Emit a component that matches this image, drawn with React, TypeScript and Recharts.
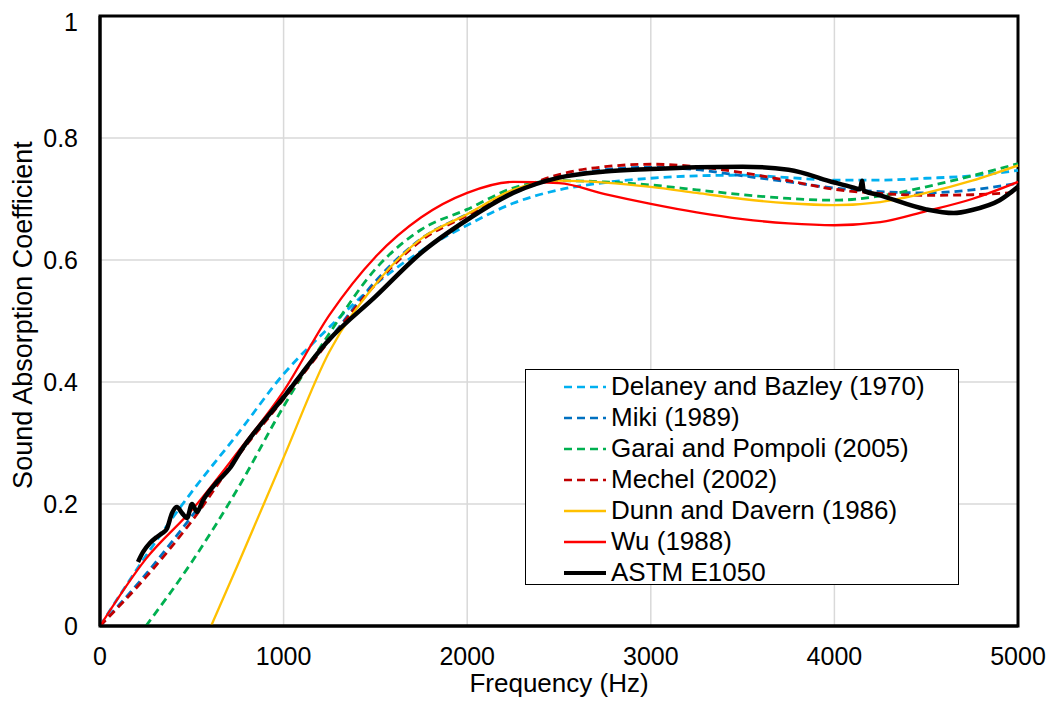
import { LineChart, Line, XAxis, YAxis, CartesianGrid, Legend, ReferenceArea } from 'recharts';

const freqHz = [0, 250, 500, 750, 1000, 1250, 1500, 1750, 2000, 2250, 2500, 2750, 3000, 3250, 3500, 3750, 4000, 4250, 4500, 4750, 5000];

const delaneyBazley = [0, 0.115, 0.22, 0.315, 0.413, 0.49, 0.56, 0.615, 0.657, 0.693, 0.715, 0.727, 0.734, 0.738, 0.739, 0.735, 0.731, 0.731, 0.734, 0.738, 0.747];
const miki = [0, 0.085, 0.18, 0.28, 0.378, 0.47, 0.565, 0.635, 0.675, 0.71, 0.735, 0.748, 0.752, 0.748, 0.738, 0.728, 0.718, 0.712, 0.71, 0.715, 0.726];
const garaiPompoli = [null, 0, 0.105, 0.225, 0.36, 0.48, 0.585, 0.65, 0.683, 0.718, 0.73, 0.728, 0.723, 0.715, 0.707, 0.701, 0.698, 0.705, 0.72, 0.738, 0.758];
const mechel = [0, 0.08, 0.172, 0.278, 0.372, 0.468, 0.56, 0.632, 0.673, 0.712, 0.74, 0.753, 0.757, 0.753, 0.743, 0.73, 0.716, 0.709, 0.706, 0.707, 0.711];
const wu = [0, 0.11, 0.19, 0.285, 0.385, 0.51, 0.605, 0.67, 0.71, 0.728, 0.726, 0.708, 0.692, 0.678, 0.667, 0.66, 0.657, 0.662, 0.68, 0.7, 0.728];

const dunnFreqHz = [605, 750, 1000, 1250, 1500, 1750, 2000, 2250, 2500, 2750, 3000, 3250, 3500, 3750, 4000, 4250, 4500, 4750, 5000];
const dunnDavern = [0, 0.1, 0.276, 0.45, 0.56, 0.635, 0.675, 0.715, 0.73, 0.727, 0.72, 0.71, 0.7, 0.693, 0.69, 0.695, 0.71, 0.73, 0.755];

const astmFreqHz = [207, 234, 272, 310, 338, 365, 392, 419, 447, 474, 501, 528, 561, 637, 708, 762, 1000, 1250, 1500, 1750, 2000, 2250, 2500, 2750, 3000, 3250, 3500, 3750, 4000, 4100, 4140, 4150, 4160, 4250, 4500, 4650, 4750, 4900, 5000];
const astmE1050 = [0.105, 0.121, 0.136, 0.146, 0.152, 0.16, 0.185, 0.195, 0.185, 0.177, 0.2, 0.187, 0.206, 0.236, 0.259, 0.285, 0.375, 0.47, 0.54, 0.612, 0.666, 0.71, 0.735, 0.745, 0.749, 0.752, 0.753, 0.748, 0.727, 0.719, 0.716, 0.73, 0.714, 0.706, 0.683, 0.677, 0.682, 0.698, 0.72];

const xTicks = [0, 1000, 2000, 3000, 4000, 5000];
const yTicks = [0, 0.2, 0.4, 0.6, 0.8, 1];

const toPoints = (fs: number[], vs: (number | null)[]) => fs.map((f, i) => ({ f, v: vs[i] }));

const series = [
  { name: 'Delaney and Bazley (1970)', color: '#00B0F0', dashed: true, width: 2.8, data: toPoints(freqHz, delaneyBazley) },
  { name: 'Miki (1989)', color: '#0070C0', dashed: true, width: 2.8, data: toPoints(freqHz, miki) },
  { name: 'Garai and Pompoli (2005)', color: '#00B050', dashed: true, width: 2.8, data: toPoints(freqHz, garaiPompoli) },
  { name: 'Mechel (2002)', color: '#C00000', dashed: true, width: 2.8, data: toPoints(freqHz, mechel) },
  { name: 'Dunn and Davern (1986)', color: '#FFC000', dashed: false, width: 2.3, data: toPoints(dunnFreqHz, dunnDavern) },
  { name: 'Wu (1988)', color: '#FF0000', dashed: false, width: 2.3, data: toPoints(freqHz, wu) },
  { name: 'ASTM E1050', color: '#000000', dashed: false, width: 4.5, data: toPoints(astmFreqHz, astmE1050) },
];

const font = 'Liberation Sans, Arial, sans-serif';

function LegendBox() {
  return (
    <div style={{ border: '1.5px solid #000', background: '#fff', width: 434, height: 216, boxSizing: 'border-box', paddingTop: 1, fontFamily: font }}>
      {series.map((s) => (
        <div key={s.name} style={{ display: 'flex', alignItems: 'center', height: 31 }}>
          <svg width={44} height={10} style={{ marginLeft: 37 }}>
            <line x1={1} y1={5} x2={43} y2={5} stroke={s.color} strokeWidth={s.width > 3 ? 4 : 2.5} strokeDasharray={s.dashed ? '8 5' : undefined} />
          </svg>
          <span style={{ fontSize: 26, marginLeft: 4, color: '#000' }}>{s.name}</span>
        </div>
      ))}
    </div>
  );
}

export default function App() {
  return (
    <div style={{ width: 1040, height: 690, background: '#fff', fontFamily: font }}>
      <LineChart width={1040} height={690} margin={{ top: 8, right: 30, left: 0, bottom: 0 }}>
        <CartesianGrid stroke="#d9d9d9" strokeWidth={1.5} />
        <XAxis
          dataKey="f"
          type="number"
          domain={[0, 5000]}
          ticks={xTicks}
          height={72}
          tickLine={false}
          tickMargin={15}
          axisLine={{ stroke: '#000', strokeWidth: 3 }}
          tick={{ fill: '#000', fontSize: 25, fontFamily: font }}
          label={{ value: 'Frequency (Hz)', position: 'insideBottom', offset: 6, fill: '#000', fontSize: 26, fontFamily: font }}
        />
        <YAxis
          type="number"
          domain={[0, 1]}
          ticks={yTicks}
          width={92}
          tickLine={false}
          tickMargin={16}
          axisLine={{ stroke: '#000', strokeWidth: 3 }}
          tick={{ fill: '#000', fontSize: 25, fontFamily: font }}
          label={({ viewBox }: any) => (
            <text
              x={24}
              y={viewBox.y + viewBox.height / 2 - 6}
              transform={`rotate(-90, 24, ${viewBox.y + viewBox.height / 2 - 6})`}
              textAnchor="middle"
              fill="#000"
              fontSize={27}
              fontFamily={font}
            >
              Sound Absorption Coefficient
            </text>
          )}
        />
        <ReferenceArea x1={0} x2={5000} y1={0} y2={1} fill="none" stroke="#000" strokeWidth={3} />
        {series.map((s) => (
          <Line
            key={s.name}
            data={s.data}
            dataKey="v"
            name={s.name}
            type="monotone"
            stroke={s.color}
            strokeWidth={s.width}
            strokeDasharray={s.dashed ? '8 5' : undefined}
            dot={false}
            activeDot={false}
            isAnimationActive={false}
          />
        ))}
        <Legend
          layout="vertical"
          align="center"
          verticalAlign="middle"
          content={() => <LegendBox />}
          wrapperStyle={{ position: 'absolute', left: 517, top: 361, width: 436, height: 218 }}
        />
      </LineChart>
    </div>
  );
}
